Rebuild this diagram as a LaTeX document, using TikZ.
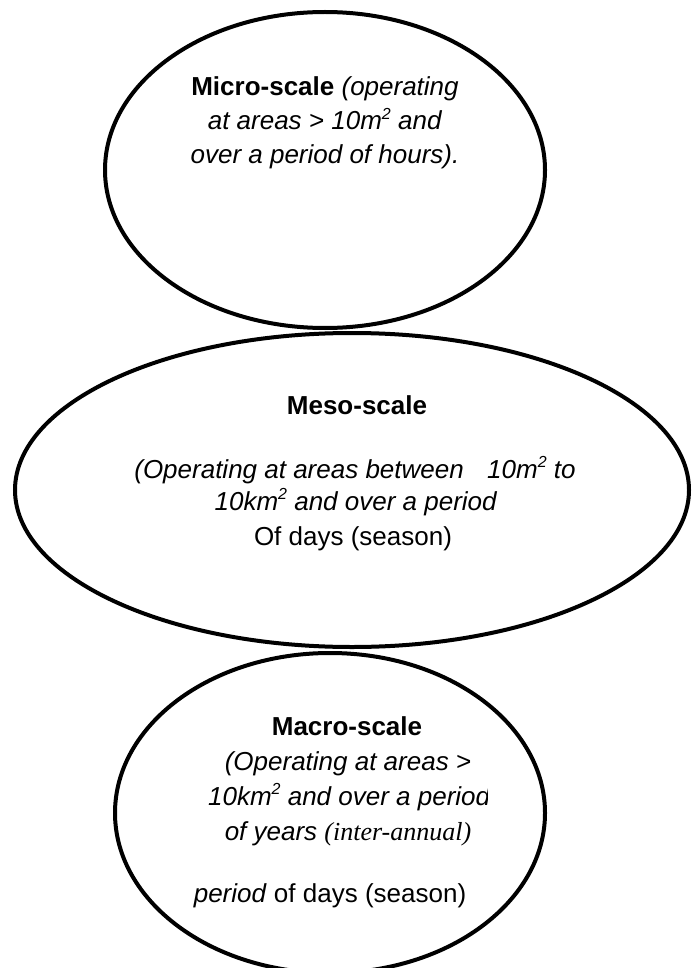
\documentclass[tikz,border=0pt]{standalone}
\usepackage{fontspec}
\setmainfont{Liberation Sans}
\newfontfamily\timesfont{Liberation Serif}
\newcommand{\sqsup}{\raisebox{0.42em}{\fontsize{16}{16}\selectfont 2}}
\begin{document}
\begin{tikzpicture}[x=1pt,y=-1pt,
  ring/.style={line width=4pt},
  txt/.style={anchor=base,inner sep=0pt,font=\fontsize{26}{33}\selectfont}]
\useasboundingbox (0,0) rectangle (693,968);
\begin{scope}
\clip (0,0) rectangle (693,968);
\draw[ring] (325,170) ellipse [x radius=220, y radius=158];
\draw[ring] (352,490) ellipse [x radius=337, y radius=157];
\draw[ring] (330,813) ellipse [x radius=215, y radius=160];
\end{scope}
% Micro
\node[txt] (mi1) at (325,96) {\textbf{Micro-scale} \textit{(operating}};
\node[txt] (mi2) at (325,130) {\textit{at areas > 10m\sqsup{} and}};
\node[txt] (mi3) at (325,164) {\textit{over a period of hours).}};
% Meso
\node[txt] (me1) at (357,414) {\textbf{Meso-scale}};
\node[txt] (me2) at (355,478) {\textit{(Operating at areas between\hspace{0.9em}10m\sqsup{} to}};
\node[txt] (me3) at (356,510) {\textit{10km\sqsup{} and over a period}};
\node[txt] (me4) at (353,545) {Of days (season)};
% Macro
\node[txt] (ma1) at (347,735) {\textbf{Macro-scale}};
\node[txt] (ma2) at (348,770) {\textit{(Operating at areas >}};
\begin{scope}
\clip (0,778) rectangle (487,815);
\node[txt] (ma3) at (349.5,805) {\textit{10km\sqsup{} and over a period}};
\end{scope}
\node[txt] (ma4) at (348,840) {\textit{of years} {\timesfont\itshape (inter-annual)}};
\node[txt] (ma5) at (330,902) {\textit{period} of days (season)};
\end{tikzpicture}
\end{document}
